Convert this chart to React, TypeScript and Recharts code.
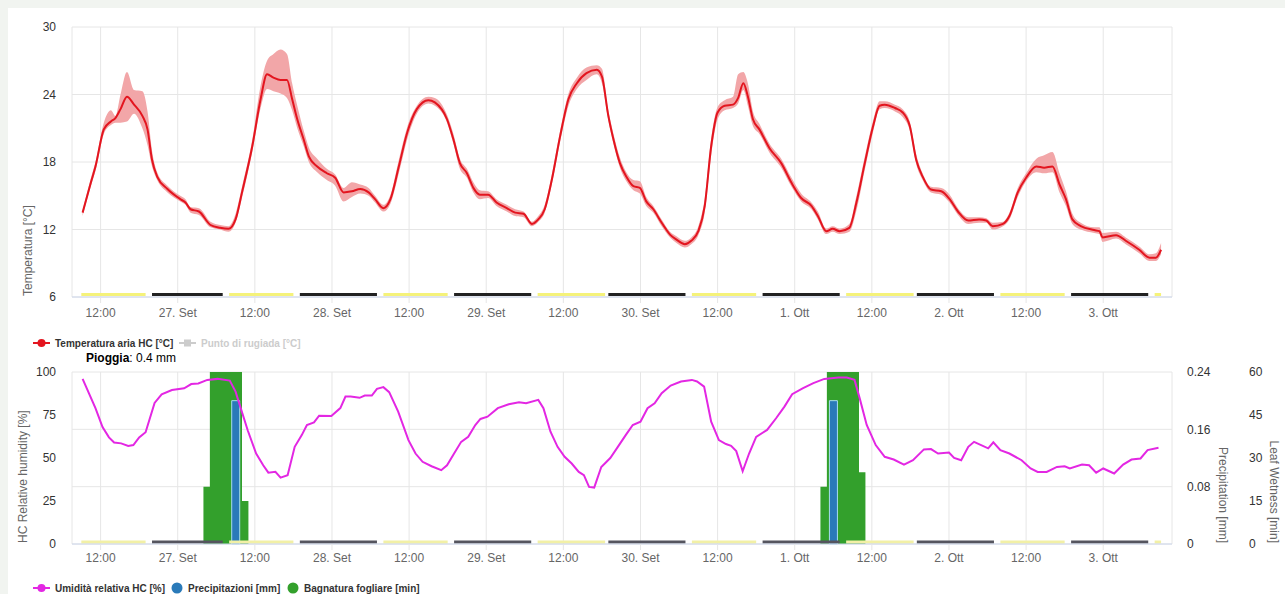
import React from "react";
import {
  ComposedChart,
  Line,
  Area,
  Bar,
  XAxis,
  YAxis,
  CartesianGrid,
  ReferenceLine,
} from "recharts";

const FONT = '"Liberation Sans", Arial, Helvetica, sans-serif';

// x values are hours counted from 26 Sep 00:00
const X_DOMAIN: [number, number] = [7.55, 178.7];
const xTicks = [12, 24, 36, 48, 60, 72, 84, 96, 108, 120, 132, 144, 156, 168];
const xTickLabels = [
  "12:00", "27. Set", "12:00", "28. Set", "12:00", "29. Set", "12:00",
  "30. Set", "12:00", "1. Ott", "12:00", "2. Ott", "12:00", "3. Ott",
];

const tempTicks = [6, 12, 18, 24, 30];
const rhTicks = [0, 25, 50, 75, 100];
const rainTicks = [0, 0.08, 0.16, 0.24];
const wetTicks = [0, 15, 30, 45, 60];

const tempHours = [
  9.2, 10.5, 11.2, 12.5, 13.6, 14.3, 15.1, 16.1, 17.2, 18.5,
  19.3, 20.0, 20.8, 22.4, 24.4, 25.2, 26.0, 27.3, 29.1, 30.6,
  31.9, 33.0, 34.0, 35.6, 36.9, 37.9, 38.9, 40.0, 41.0, 41.8,
  42.6, 43.6, 44.4, 45.7, 47.2, 48.5, 49.8, 51.1, 52.4, 53.7,
  54.7, 56.0, 57.1, 58.4, 59.7, 61.2, 63.0, 64.0, 65.9, 66.9,
  67.9, 69.0, 70.0, 71.0, 72.3, 73.6, 75.2, 76.5, 77.8, 79.1,
  80.1, 81.1, 82.2, 83.5, 84.8, 86.1, 87.6, 89.2, 90.0, 91.0,
  91.8, 92.8, 93.8, 94.9, 95.9, 96.9, 98.0, 99.3, 100.6, 101.6,
  102.9, 103.9, 105.0, 106.0, 107.0, 108.0, 109.1, 110.4, 111.2, 112.0,
  112.7, 113.5, 114.5, 116.1, 117.9, 119.5, 121.0, 122.6, 123.6, 124.9,
  125.9, 127.0, 128.5, 129.6, 130.9, 132.2, 133.2, 134.0, 135.6, 136.8,
  137.9, 138.9, 139.9, 141.2, 142.8, 144.1, 145.4, 147.0, 148.7, 149.8,
  150.8, 152.4, 153.4, 154.7, 156.0, 157.6, 158.8, 160.1, 161.2, 162.2,
  163.2, 164.5, 166.6, 167.4, 167.9, 170.0, 171.5, 173.6, 175.2, 176.2,
  177.0,
];

const tempAvg = [
  13.5, 16.2, 17.6, 20.9, 21.6, 21.9, 22.7, 23.8, 23.1, 22.1,
  20.9, 18.2, 16.7, 15.6, 14.7, 14.4, 13.8, 13.6, 12.4, 12.15,
  12.06, 12.9, 15.3, 19.4, 23.6, 25.8, 25.5, 25.3, 25.3, 23.6,
  21.8, 20.0, 18.5, 17.6, 17.0, 16.6, 15.3, 15.4, 15.6, 15.3,
  14.7, 13.9, 14.7, 17.6, 20.6, 22.7, 23.5, 23.3, 21.8, 20.0,
  17.9, 17.0, 15.7, 15.1, 15.1, 14.4, 13.9, 13.5, 13.4, 12.5,
  12.9, 13.8, 16.4, 20.3, 23.6, 25.0, 25.9, 26.2, 25.6, 22.1,
  20.0, 17.9, 16.7, 15.85, 15.7, 14.5, 13.8, 12.6, 11.55, 11.1,
  10.7, 11.0, 11.85, 14.1, 19.4, 22.4, 23.0, 23.1, 23.7, 25.0,
  23.85, 21.8, 20.9, 19.2, 17.9, 16.15, 14.8, 14.1, 13.2, 11.85,
  12.06, 11.85, 12.15, 14.4, 17.9, 21.2, 23.0, 23.1, 22.8, 22.4,
  21.2, 18.2, 16.7, 15.55, 15.4, 14.7, 13.6, 12.8, 12.9, 12.8,
  12.3, 12.5, 13.2, 15.3, 16.6, 17.6, 17.5, 17.6, 16.0, 14.7,
  12.9, 12.3, 11.95, 11.85, 11.3, 11.5, 11.0, 10.2, 9.5, 9.5,
  10.2,
];

const tempLow = [
  13.2, 15.9, 17.2, 20.5, 21.3, 21.5, 21.5, 21.6, 22.3, 21.0,
  19.5, 17.6, 16.4, 15.3, 14.5, 14.2, 13.5, 13.3, 12.2, 12.0,
  11.8, 12.6, 14.8, 18.9, 22.8, 24.5, 24.3, 24.1, 23.7, 22.6,
  21.0, 19.4, 18.0, 17.1, 16.4, 15.9, 14.5, 14.9, 15.2, 15.0,
  14.4, 13.6, 14.3, 17.0, 20.0, 22.3, 23.2, 23.0, 21.5, 19.6,
  17.4, 16.6, 15.3, 14.7, 14.8, 14.1, 13.6, 13.2, 13.1, 12.3,
  12.7, 13.5, 16.0, 19.8, 23.0, 24.5, 25.3, 25.8, 25.0, 21.7,
  19.6, 17.5, 16.3, 15.5, 15.2, 14.1, 13.5, 12.3, 11.3, 10.8,
  10.4, 10.7, 11.5, 13.5, 18.6, 21.8, 22.6, 22.8, 23.2, 24.4,
  23.0, 21.2, 20.5, 18.8, 17.5, 15.8, 14.5, 13.8, 12.9, 11.6,
  11.8, 11.6, 11.8, 13.7, 17.3, 20.7, 22.7, 22.8, 22.5, 22.0,
  20.8, 17.8, 16.4, 15.3, 15.1, 14.4, 13.3, 12.5, 12.6, 12.6,
  12.0, 12.3, 12.9, 14.9, 16.3, 17.1, 17.0, 17.1, 15.3, 14.1,
  12.5, 12.0, 11.7, 11.6, 10.9, 11.2, 10.7, 9.9, 9.2, 9.2,
  9.8,
];

const tempHigh = [
  13.7, 16.6, 18.0, 21.5, 22.6, 22.1, 24.0, 26.0, 24.4, 24.3,
  22.5, 19.0, 17.1, 15.9, 15.0, 14.7, 14.0, 13.9, 12.7, 12.4,
  12.3, 13.4, 15.8, 20.0, 24.8, 27.0, 27.6, 28.0, 27.6, 25.0,
  23.0, 20.8, 19.3, 18.3, 17.4, 16.9, 15.7, 16.2, 16.0, 15.7,
  15.0, 14.2, 15.1, 18.2, 21.1, 23.0, 23.8, 23.7, 22.2, 20.5,
  18.3, 17.4, 16.2, 15.5, 15.4, 14.7, 14.2, 13.8, 13.6, 12.7,
  13.2, 14.2, 16.9, 20.8, 24.1, 25.5, 26.4, 26.6, 26.3, 22.6,
  20.5, 18.4, 17.1, 16.4, 16.3, 14.9, 14.1, 12.9, 11.8, 11.4,
  11.0, 11.3, 12.3, 14.8, 20.1, 22.9, 23.5, 23.8, 25.8, 26.0,
  25.0, 22.5, 21.4, 19.6, 18.3, 16.6, 15.2, 14.4, 13.6, 12.1,
  12.3, 12.1, 12.5, 15.0, 18.5, 21.7, 23.4, 23.4, 23.1, 22.7,
  21.6, 18.7, 17.0, 15.8, 15.7, 15.1, 13.9, 13.1, 13.1, 13.0,
  12.6, 12.7, 13.5, 15.7, 17.0, 18.3, 18.6, 18.9, 17.0, 15.4,
  13.4, 12.6, 12.2, 12.2, 11.7, 11.8, 11.3, 10.5, 9.8, 9.9,
  10.8,
];

const rhHours = [
  9.2, 11.2, 12.3, 13.3, 14.1, 15.2, 16.3, 17.1, 18.0, 19.0,
  20.4, 21.5, 23.1, 25.0, 26.1, 27.2, 28.6, 30.2, 32.1, 33.0,
  33.8, 34.9, 36.2, 37.3, 38.1, 39.2, 40.0, 41.1, 42.2, 43.3,
  44.1, 45.2, 46.0, 47.9, 49.3, 50.1, 50.9, 52.3, 53.1, 54.2,
  55.0, 56.0, 56.9, 58.3, 59.9, 61.0, 62.1, 63.5, 65.0, 65.9,
  67.0, 68.1, 69.2, 70.3, 71.1, 72.2, 73.8, 75.5, 77.1, 78.2,
  80.1, 80.9, 82.0, 83.1, 84.2, 85.3, 86.4, 87.2, 88.0, 88.8,
  89.9, 91.3, 92.4, 93.7, 94.8, 96.0, 97.1, 98.2, 99.3, 100.7,
  102.3, 104.0, 104.8, 105.9, 107.0, 108.2, 109.3, 110.1, 110.9, 111.9,
  112.9, 114.0, 115.7, 117.1, 118.4, 119.6, 121.3, 122.9, 124.6, 126.8,
  128.1, 129.3, 130.1, 131.2, 132.6, 134.0, 135.4, 137.0, 138.4, 140.1,
  141.2, 142.3, 144.0, 144.8, 145.9, 147.0, 147.9, 150.1, 150.9, 152.0,
  153.4, 155.3, 156.7, 157.8, 159.2, 160.8, 162.0, 162.8, 164.7, 165.8,
  166.9, 168.0, 169.7, 171.1, 172.4, 173.8, 174.9, 176.6,
];

const rhValues = [
  96, 79, 68, 62, 59, 58.5, 57, 57.5, 62, 65,
  82, 87, 89.5, 90.5, 93, 93.3, 95.4, 96, 95, 88.6,
  79, 66, 52.6, 45.8, 41.5, 42, 38.6, 40, 56.5, 63.3,
  69.2, 70.7, 74.6, 74.4, 79, 85.7, 85.7, 85, 86.3, 86.3,
  90.2, 91.2, 88.3, 77, 60.4, 52.6, 47.8, 45.2, 42.9, 45.8,
  52.6, 59.4, 62.3, 69.2, 72.7, 74, 79, 81.2, 82.4, 81.8,
  83.8, 79, 65.3, 56.5, 50.7, 46.8, 41.9, 40, 33.2, 32.8,
  44.8, 50, 56, 63.3, 69.2, 71.1, 78.9, 81.8, 87.7, 92.1,
  94.5, 95.4, 94.5, 91.5, 71.1, 60.4, 58.1, 57.1, 54, 42.3,
  52.6, 62.3, 66.3, 73.1, 79.9, 87.1, 90.6, 93.5, 96, 96.8,
  96.8, 95.4, 84.8, 69.2, 57.5, 50.7, 49.1, 46.2, 48.7, 55,
  55.2, 52.6, 53.2, 50.1, 48.7, 56.5, 59.4, 55.6, 59.1, 54.6,
  52.6, 48.7, 43.9, 41.9, 41.9, 44.8, 45.2, 43.9, 46.2, 45.8,
  41.5, 43.9, 41, 46.2, 49.1, 49.7, 54.6, 55.9,
];

// leaf wetness per hour (minutes), step after each listed hour
const wetHours = [9, 28, 29, 34, 35, 124, 125, 130, 131, 177];
const wetMinutes = [0, 20, 60, 15, 0, 20, 60, 25, 0, 0];

const rainHours = [33, 126];
const rainMm = [0.2, 0.2];

// daylight / night periods [from, to] in hours
const dayPeriods = [
  [9, 19], [32, 42], [56, 66], [80, 90.5], [104, 114], [128, 138.5], [152, 162], [176, 177],
];
const nightPeriods = [
  [20, 31], [43, 55], [67, 79], [91, 103], [115, 127], [139, 151], [163, 175],
];

const tempData = tempHours.map((h, i) => ({
  h,
  temp: tempAvg[i],
  range: [tempLow[i], tempHigh[i]],
}));
const rhData = rhHours.map((h, i) => ({ h, rh: rhValues[i] }));
const wetData = wetHours.map((h, i) => ({ h, wet: wetMinutes[i] }));
const rainData = rainHours.map((h, i) => ({ h, rain: rainMm[i] }));

const fmtX = (v: number) => xTickLabels[xTicks.indexOf(v)] ?? "";

const yTick = { fill: "#333", fontSize: 12, fontFamily: FONT };
const xTick = { fill: "#666", fontSize: 12, fontFamily: FONT };

const leftTitle = (text: string, cx: number) => (props: any) => {
  const vb = props.viewBox;
  const x = vb.x + cx + 4;
  const y = vb.y + vb.height - 1;
  return (
    <text x={x} y={y} transform={`rotate(-90 ${x} ${y})`} textAnchor="start"
      fill="#666" fontSize={12} fontFamily={FONT}>
      {text}
    </text>
  );
};

const rightTitle = (text: string, cx: number) => (props: any) => {
  const vb = props.viewBox;
  const x = vb.x + cx - 4;
  const y = vb.y + vb.height - 1;
  return (
    <text x={x} y={y} transform={`rotate(90 ${x} ${y})`} textAnchor="end"
      fill="#666" fontSize={12} fontFamily={FONT}>
      {text}
    </text>
  );
};

// day/night bar drawn just above the axis line
const sunBar = (color: string, lift: number) => (p: any) => (
  <line x1={p.x1} y1={p.y1 - lift} x2={p.x2} y2={p.y2 - lift} stroke={color} strokeWidth={3} />
);

function LineIcon({ color, square }: { color: string; square?: boolean }) {
  return (
    <svg width={17} height={10} style={{ display: "block" }}>
      <line x1={0} y1={5} x2={17} y2={5} stroke={color} strokeWidth={2} />
      {square ? (
        <rect x={5} y={1.5} width={7} height={7} fill={color} />
      ) : (
        <circle cx={8.5} cy={5} r={4} fill={color} />
      )}
    </svg>
  );
}

function Dot({ color }: { color: string }) {
  return (
    <svg width={12} height={12} style={{ display: "block" }}>
      <circle cx={6} cy={6} r={5.5} fill={color} />
    </svg>
  );
}

const legendText = (color: string): React.CSSProperties => ({
  fontSize: 10,
  fontWeight: 700,
  color,
  fontFamily: FONT,
  whiteSpace: "nowrap",
});

function LegendItem({ left, top, icon, label, color }: any) {
  return (
    <div style={{ position: "absolute", left, top, display: "flex", alignItems: "center", gap: 5, height: 12 }}>
      {icon}
      <span style={legendText(color)}>{label}</span>
    </div>
  );
}

export default function App() {
  const rainTotal = rainMm.reduce((s, v) => s + v, 0);
  return (
    <div style={{ position: "absolute", left: 0, top: 0, width: 1285, height: 594, background: "#f1f4f0", overflow: "hidden", fontFamily: FONT }}>
      <div style={{ position: "absolute", left: 8, top: 8, right: 0, bottom: 0, background: "#ffffff" }} />

      <div style={{ position: "absolute", left: 0, top: 0 }}>
        <ComposedChart width={1285} height={330} data={tempData} margin={{ top: 27, right: 113, bottom: 0, left: 0 }}>
          <CartesianGrid stroke="#e6e6e6" />
          <XAxis dataKey="h" type="number" domain={X_DOMAIN} allowDataOverflow ticks={xTicks}
            tickFormatter={fmtX} height={33} tick={xTick} tickSize={6} tickMargin={5}
            axisLine={{ stroke: "#ccd6eb" }} tickLine={{ stroke: "#e6e6e6" }} />
          <YAxis type="number" domain={[6, 30]} ticks={tempTicks} width={72} tick={yTick}
            tickSize={0} tickMargin={16} axisLine={false} tickLine={false}
            label={leftTitle("Temperatura [°C]", 28)} />
          <Area dataKey="range" type="monotone" stroke="none" fill="#f2a6a8" fillOpacity={1}
            isAnimationActive={false} dot={false} activeDot={false} />
          <Line dataKey="temp" type="monotone" stroke="#e3151f" strokeWidth={2} dot={false}
            activeDot={false} isAnimationActive={false} />
          {dayPeriods.map(([a, b], i) => (
            <ReferenceLine key={`d${i}`} segment={[{ x: a, y: 6 }, { x: b, y: 6 }]}
              stroke="#f5f27a" shape={sunBar("#f5f27a", 2.5)} />
          ))}
          {nightPeriods.map(([a, b], i) => (
            <ReferenceLine key={`n${i}`} segment={[{ x: a, y: 6 }, { x: b, y: 6 }]}
              stroke="#222222" shape={sunBar("#222222", 2.5)} />
          ))}
        </ComposedChart>
      </div>

      <LegendItem left={33} top={337} icon={<LineIcon color="#e3151f" />} label="Temperatura aria HC [°C]" color="#333" />
      <LegendItem left={179} top={337} icon={<LineIcon color="#cccccc" square />} label="Punto di rugiada [°C]" color="#cccccc" />
      <div style={{ position: "absolute", left: 86, top: 351, fontSize: 12, color: "#000", fontFamily: FONT, whiteSpace: "nowrap" }}>
        <b>Pioggia</b>: {rainTotal.toFixed(1)} mm
      </div>

      <div style={{ position: "absolute", left: 0, top: 340 }}>
        <ComposedChart width={1285} height={230} data={rainData} margin={{ top: 32, right: 0, bottom: 0, left: 0 }}>
          <CartesianGrid stroke="#e6e6e6" yAxisId="precip" />
          <XAxis dataKey="h" type="number" domain={X_DOMAIN} allowDataOverflow ticks={xTicks}
            tickFormatter={fmtX} height={26} tick={xTick} tickSize={6} tickMargin={3}
            axisLine={{ stroke: "#ccd6eb" }} tickLine={{ stroke: "#e6e6e6" }} />
          <XAxis xAxisId="rain" dataKey="h" type="number" domain={X_DOMAIN} allowDataOverflow hide />
          <YAxis yAxisId="rh" type="number" domain={[0, 100]} ticks={rhTicks} width={72} tick={yTick}
            tickSize={0} tickMargin={16} axisLine={false} tickLine={false}
            label={leftTitle("HC Relative humidity [%]", 23)} />
          <YAxis yAxisId="precip" orientation="right" type="number" domain={[0, 0.24]} ticks={rainTicks}
            width={58} tick={yTick} tickSize={0} tickMargin={15} axisLine={false} tickLine={false}
            label={rightTitle("Precipitation [mm]", 51)} />
          <YAxis yAxisId="wet" orientation="right" type="number" domain={[0, 60]} ticks={wetTicks}
            width={55} tick={yTick} tickSize={0} tickMargin={19} axisLine={false} tickLine={false}
            label={rightTitle("Leaf Wetness [min]", 44)} />
          <Area data={wetData} yAxisId="wet" dataKey="wet" type="stepAfter" stroke="none"
            fill="#33a02c" fillOpacity={1} isAnimationActive={false} dot={false} activeDot={false} />
          <Bar xAxisId="rain" yAxisId="precip" dataKey="rain" barSize={8} fill="#2a7ab9"
            stroke="#a8dcec" strokeWidth={1} isAnimationActive={false} />
          <Line data={rhData} yAxisId="rh" dataKey="rh" type="linear" stroke="#e327e3" strokeWidth={2}
            dot={false} activeDot={false} isAnimationActive={false} />
          {dayPeriods.map(([a, b], i) => (
            <ReferenceLine key={`d${i}`} yAxisId="rh" segment={[{ x: a, y: 0 }, { x: b, y: 0 }]}
              stroke="#f2f0a6" shape={sunBar("#f2f0a6", 2)} />
          ))}
          {nightPeriods.map(([a, b], i) => (
            <ReferenceLine key={`n${i}`} yAxisId="rh" segment={[{ x: a, y: 0 }, { x: b, y: 0 }]}
              stroke="#55555f" shape={sunBar("#55555f", 2)} />
          ))}
        </ComposedChart>
      </div>

      <LegendItem left={33} top={582} icon={<LineIcon color="#e327e3" />} label="Umidità relativa HC [%]" color="#333" />
      <LegendItem left={171} top={582} icon={<Dot color="#2a7ab9" />} label="Precipitazioni [mm]" color="#333" />
      <LegendItem left={287} top={582} icon={<Dot color="#33a02c" />} label="Bagnatura fogliare [min]" color="#333" />
    </div>
  );
}
